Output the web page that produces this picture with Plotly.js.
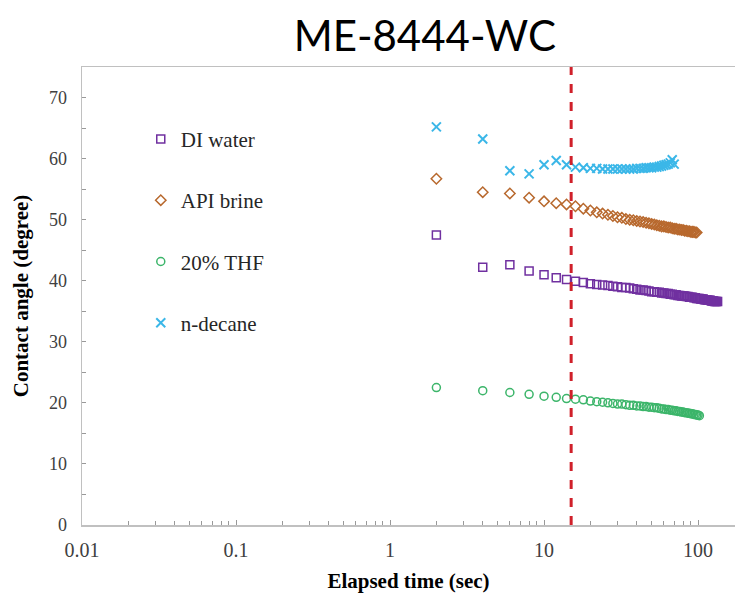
<!DOCTYPE html>
<html>
<head>
<meta charset="utf-8">
<script src="https://cdn.plot.ly/plotly-3.0.1.min.js"></script>
<style>html,body{margin:0;padding:0;background:#fff;overflow:hidden}</style>
</head>
<body>
<div id="chart" style="width:735px;height:597px"></div>
<script>
// ---- data ----
const seriesNames = ["DI water", "API brine", "20% THF", "n-decane"];

const diTime = [2,4,6,8,10,12,14,16,18,20,22,24,26,28,30,32,34,36,38,40,42,44,46,48,50,52,54,56,58,60,62,64,66,68,70,72,74,76,78,80,82,84,86,88,90,92,94,96,98,100,102,104,106,108,110,112,114,116,118,120,122,124,126,128,130,132,134];
const diAngle = [47.5,42.2,42.6,41.6,41.0,40.5,40.2,39.9,39.7,39.5,39.4,39.3,39.2,39.1,39.0,38.9,38.9,38.8,38.7,38.6,38.5,38.5,38.4,38.3,38.2,38.2,38.1,38.1,38.0,38.0,37.9,37.9,37.8,37.8,37.7,37.7,37.6,37.6,37.5,37.5,37.5,37.4,37.4,37.3,37.3,37.3,37.2,37.2,37.1,37.1,37.1,37.0,37.0,37.0,36.9,36.9,36.9,36.8,36.8,36.8,36.7,36.7,36.7,36.6,36.6,36.6,36.6];

const brineTime = [2,4,6,8,10,12,14,16,18,20,22,24,26,28,30,32,34,36,38,40,42,44,46,48,50,52,54,56,58,60,62,64,66,68,70,72,74,76,78,80,82,84,86,88,90,92,94,96,98];
const brineAngle = [56.7,54.5,54.3,53.6,53.0,52.7,52.5,52.2,51.8,51.5,51.2,51.0,50.8,50.6,50.4,50.3,50.1,50.0,49.9,49.8,49.7,49.6,49.5,49.4,49.3,49.2,49.1,49.0,48.9,48.9,48.8,48.7,48.7,48.6,48.5,48.5,48.4,48.4,48.3,48.3,48.2,48.2,48.1,48.1,48.0,48.0,48.0,47.9,47.9];

const thfTime = [2,4,6,8,10,12,14,16,18,20,22,24,26,28,30,32,34,36,38,40,42,44,46,48,50,52,54,56,58,60,62,64,66,68,70,72,74,76,78,80,82,84,86,88,90,92,94,96,98,100,102];
const thfAngle = [22.5,22.0,21.7,21.4,21.1,20.9,20.7,20.6,20.5,20.3,20.2,20.1,20.0,19.9,19.8,19.8,19.7,19.6,19.6,19.5,19.5,19.4,19.4,19.3,19.3,19.2,19.2,19.1,19.0,19.0,18.9,18.9,18.8,18.8,18.7,18.7,18.6,18.6,18.5,18.5,18.4,18.4,18.3,18.3,18.2,18.2,18.1,18.1,18.0,18.0,17.9];

const decaneTime = [2,4,6,8,10,12,14,16,18,20,22,24,26,28,30,32,34,36,38,40,42,44,46,48,50,52,54,56,58,60,62,64,66,68,70];
const decaneAngle = [65.2,63.2,58.0,57.5,59.0,59.7,59.0,58.6,58.5,58.4,58.4,58.3,58.3,58.3,58.3,58.3,58.3,58.3,58.3,58.4,58.4,58.4,58.5,58.5,58.5,58.6,58.6,58.7,58.8,58.9,59.0,59.1,59.3,59.8,59.1];

const xTickVals = [0.01, 0.1, 1, 10, 100];
const xTickText = ["0.01", "0.1", "1", "10", "100"];
const yTickVals = [0, 10, 20, 30, 40, 50, 60, 70];
const yTickText = ["0", "10", "20", "30", "40", "50", "60", "70"];
const markerTime = 15;

// ---- chart ----
const serif = '"Liberation Serif", "Times New Roman", serif';
function mk(x, y, name, symbol, color, group) {
  return {
    type: "scatter", mode: "markers", x: x, y: y, name: name, legendgroup: group,
    marker: {symbol: symbol, size: 8, color: color, line: {color: color, width: 1.5}}
  };
}
const traces = [
  mk(diTime, diAngle, seriesNames[0], "square-open", "#7030a0", "g1"),
  mk(brineTime, brineAngle, seriesNames[1], "diamond-open", "#b8692e", "g2"),
  mk(thfTime, thfAngle, seriesNames[2], "circle-open", "#3cb56a", "g3"),
  {type: "scatter", mode: "markers", x: decaneTime, y: decaneAngle, name: seriesNames[3], legendgroup: "g4",
   marker: {symbol: "x-thin-open", size: 9, color: "#3bb7e8", line: {color: "#3bb7e8", width: 2}}}
];

const layout = {
  width: 735, height: 597,
  margin: {l: 82, r: 0, t: 67, b: 72},
  paper_bgcolor: "#ffffff", plot_bgcolor: "#ffffff",
  title: {text: "ME-8444-WC", font: {family: "Lato, 'Open Sans', sans-serif", size: 42, color: "#000"},
          xref: "container", yref: "container", x: 0.578, xanchor: "center", y: 0.94, yanchor: "middle"},
  xaxis: {
    type: "log", range: [-2, 2.24],
    tickmode: "array", tickvals: xTickVals, ticktext: xTickText,
    ticks: "inside", ticklen: 5, tickcolor: "#999", tickwidth: 1,
    minor: {ticks: "inside", ticklen: 4, tickcolor: "#999", dtick: "D1"},
    showgrid: false, zeroline: false,
    showline: true, linecolor: "#c0c0c0", linewidth: 1.5, mirror: true,
    tickfont: {family: serif, size: 20, color: "#404040"},
    ticklabelstandoff: 6,
    title: {text: "<b>Elapsed time (sec)</b>", font: {family: serif, size: 21, color: "#000"}, standoff: 14}
  },
  yaxis: {
    range: [0, 75],
    tickmode: "array", tickvals: yTickVals, ticktext: yTickText,
    ticks: "inside", ticklen: 4, tickcolor: "#999", tickwidth: 1,
    minor: {ticks: "inside", ticklen: 4, tickcolor: "#999", dtick: 5},
    showgrid: false, zeroline: false,
    showline: true, linecolor: "#c0c0c0", linewidth: 1.5, mirror: false,
    tickfont: {family: serif, size: 18, color: "#404040"},
    ticklabelstandoff: 10,
    title: {text: "<b>Contact angle (degree)</b>", font: {family: serif, size: 21, color: "#000"}, standoff: 14}
  },
  showlegend: true,
  legend: {x: 0.09, y: 0.887, xanchor: "left", yanchor: "top", bgcolor: "rgba(0,0,0,0)",
           font: {family: serif, size: 21, color: "#262626"}, tracegroupgap: 31, itemsizing: "trace"},
  shapes: [{type: "line", xref: "x", yref: "paper", x0: markerTime, x1: markerTime, y0: 0, y1: 1,
            line: {color: "#d0202a", width: 3, dash: "dash"}}]
};

Plotly.newPlot("chart", traces, layout, {displayModeBar: false, staticPlot: true});
</script>
</body>
</html>
